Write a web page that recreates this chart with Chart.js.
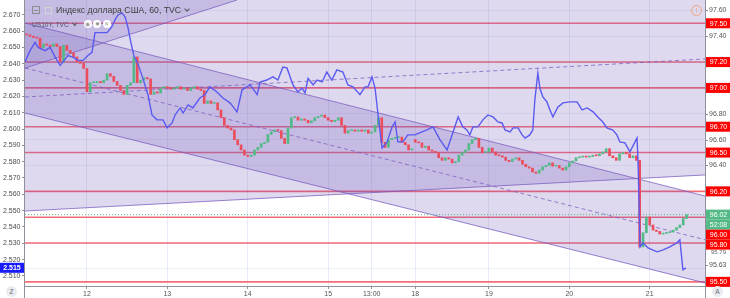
<!DOCTYPE html>
<html><head><meta charset="utf-8">
<script src="https://cdn.jsdelivr.net/npm/chart.js@4.4.1/dist/chart.umd.min.js"></script>
<style>
html,body{margin:0;padding:0;background:#fff;overflow:hidden;}
#wrap{position:relative;width:730px;height:298px;font-family:"Liberation Sans",Arial,sans-serif;}
#c{position:absolute;left:0;top:0;}
.row{position:absolute;display:flex;align-items:center;white-space:nowrap;}
.chev{display:inline-block;width:3px;height:3px;border-right:1px solid #555;border-bottom:1px solid #555;transform:rotate(45deg);margin-left:4px;margin-top:-3px;}
.ic{display:inline-block;width:8px;height:8px;border-radius:50%;background:#fff;margin-left:1.5px;color:#999;font-size:6px;line-height:8px;text-align:center;}
.circ{position:absolute;width:11px;height:11px;border-radius:50%;background:#e9ebf0;color:#666;font-size:6.5px;line-height:11px;text-align:center;}
</style></head><body>
<div id="wrap">
<canvas id="c" width="730" height="298"></canvas>
<div class="row" style="left:32px;top:5px;height:10px;font-size:8.7px;color:#3f3f3f;">
  <span style="display:inline-block;width:6px;height:6px;border:1px solid #8c8c8c;position:relative;margin-right:5px;"><span style="position:absolute;left:1px;right:1px;top:2.5px;height:1px;background:#8c8c8c;"></span></span>
  <span style="display:inline-block;width:5px;height:5px;border:1px solid #d4d4d4;margin-right:4px;"></span>
  <span>Индекс доллара США, 60, TVC</span><span class="chev"></span>
</div>
<div class="row" style="left:32px;top:19.5px;height:9px;font-size:6.6px;color:#4e5a6e;">
  <span>US10Y, TVC</span><span class="chev" style="width:2.5px;height:2.5px;margin-right:6px;"></span>
  <span class="ic">&#9673;</span><span class="ic">&#10041;</span><span class="ic">&#10005;</span>
</div>
<div style="position:absolute;left:691px;top:5px;width:9px;height:9px;border:1px solid #efa37a;border-radius:50%;color:#efa37a;font-size:7px;line-height:9px;text-align:center;">!</div>
<div class="circ" style="left:6px;top:286px;">Z</div>
<div class="circ" style="left:712px;top:286px;">A</div>
</div>
<script>
// ---- x axis (hourly bar index) ----
const dayTickPos = [18, 42, 66, 90, 103, 116, 138, 162, 186];
const dayTickLabels = ['12', '13', '14', '15', '13:00', '18', '19', '20', '21'];

// ---- Dollar index (right axis), hourly candles ----
const dxyFirstOpen = 97.417;
const dxyGapOpens = {116: 96.60};
const dxyCloses = [
 97.41,97.40,97.39,97.385,97.31,97.34,97.33,97.32,97.34,97.32,
 97.20,97.33,97.29,97.27,97.24,97.20,97.19,97.15,96.97,97.04,
 97.04,97.05,97.04,97.06,97.11,97.09,97.05,97.02,96.98,96.95,
 97.02,97.04,97.24,97.04,97.06,97.08,97.07,96.95,96.97,96.96,
 97.00,97.01,97.00,96.99,97.00,97.01,96.99,97.00,96.98,97.00,
 97.01,96.99,96.98,96.88,96.90,96.88,96.885,96.83,96.77,96.71,
 96.69,96.675,96.60,96.56,96.52,96.48,96.47,96.48,96.52,96.54,
 96.57,96.58,96.64,96.66,96.675,96.67,96.61,96.57,96.69,96.77,
 96.775,96.75,96.76,96.75,96.73,96.745,96.77,96.78,96.79,96.77,
 96.75,96.74,96.75,96.77,96.71,96.65,96.67,96.675,96.665,96.675,
 96.665,96.675,96.65,96.66,96.71,96.77,96.58,96.54,96.60,96.61,
 96.615,96.62,96.58,96.56,96.52,96.53,96.58,96.575,96.54,96.55,
 96.52,96.51,96.50,96.46,96.44,96.46,96.45,96.42,96.43,96.48,
 96.50,96.52,96.57,96.60,96.61,96.54,96.50,96.505,96.535,96.505,
 96.48,96.475,96.465,96.44,96.43,96.45,96.46,96.44,96.41,96.39,
 96.38,96.35,96.34,96.365,96.39,96.40,96.42,96.395,96.40,96.38,
 96.365,96.39,96.42,96.435,96.46,96.465,96.47,96.465,96.47,96.48,
 96.475,96.49,96.505,96.53,96.475,96.46,96.44,96.49,96.50,96.49,
 96.46,96.475,96.44,95.77,95.88,96.00,95.94,95.90,95.89,95.87,
 95.875,95.88,95.885,95.90,95.92,95.94,95.99,96.02
];

// ---- US10Y (left axis) ----
const tnxX = [-0.5,1.0,2.5,3.4,5.5,7.0,8.5,10.0,10.8,12.3,13.8,15.3,16.8,18.3,19.5,20.4,21.9,24.0,25.4,26.4,
 27.3,28.5,29.4,30.2,31.1,32.0,33.2,34.7,36.2,37.4,38.9,40.7,41.9,43.4,44.3,45.8,46.7,48.2,49.6,51.7,
 53.2,54.7,56.8,58.6,60.7,62.8,64.3,66.7,68.8,69.7,71.7,73.5,75.0,76.5,77.7,79.5,81.0,82.2,83.1,84.0,
 85.5,86.7,88.2,89.6,91.1,92.6,94.4,95.9,97.4,99.5,101.0,101.9,103.1,104.0,104.9,106.1,107.6,109.1,110.0,110.8,
 112.3,113.8,115.9,118.0,119.5,121.3,123.4,125.5,127.3,128.8,130.2,131.4,132.3,133.2,134.7,136.2,137.7,139.2,140.7,141.9,
 142.8,144.3,145.2,146.7,147.9,148.8,150.2,151.1,151.7,152.6,153.2,154.1,155.3,156.2,157.1,158.6,160.1,162.2,164.3,165.8,
 167.3,169.1,170.5,172.0,173.2,175.0,176.2,177.1,178.6,180.1,181.6,182.2,182.5,183.1,184.0,185.5,188.2,190.0,192.0,194.1,
 195.0,195.9,196.8];
const tnxY = [2.641,2.648,2.653,2.650,2.648,2.650,2.644,2.639,2.641,2.645,2.644,2.642,2.642,2.645,2.647,2.659,2.659,2.659,2.6625,2.667,
 2.670,2.671,2.6686,2.6625,2.653,2.645,2.640,2.631,2.621,2.6086,2.6056,2.6056,2.6007,2.6037,2.6086,2.6129,2.6098,2.6147,2.6129,2.619,
 2.621,2.6258,2.6227,2.619,2.616,2.6105,2.624,2.627,2.621,2.6288,2.630,2.6319,2.630,2.638,2.6374,2.627,2.6227,2.6251,2.6221,2.631,
 2.627,2.630,2.6288,2.6349,2.630,2.6362,2.6349,2.627,2.6258,2.621,2.6258,2.6258,2.6319,2.6251,2.6086,2.5884,2.5921,2.6013,2.6043,2.5921,
 2.5921,2.5964,2.5964,2.5982,2.5994,2.6013,2.5933,2.5872,2.5982,2.6074,2.6013,2.5994,2.5964,2.6013,2.6013,2.6056,2.6086,2.6074,2.6043,2.6037,
 2.5994,2.5982,2.6007,2.6007,2.5964,2.5945,2.5964,2.5994,2.6178,2.6343,2.6251,2.6196,2.6166,2.6117,2.6074,2.6135,2.616,2.6166,2.6166,2.6117,
 2.6129,2.6105,2.6074,2.6043,2.6007,2.5994,2.5964,2.5921,2.5915,2.586,2.5921,2.5945,2.5811,2.5278,2.5303,2.5272,2.5248,2.526,2.5278,2.5303,
 2.5321,2.5138,2.515];

// ---- drawings (right-axis values) ----
const hLevels = [97.50, 97.20, 97.00, 96.70, 96.50, 96.20, 96.00, 95.80, 95.50];
const rightGrayTicks = [97.60, 97.40, 96.80, 96.60, 96.40, 95.63];
const rightSmallLabel = '95.79';
const lastPrice = 96.02;
const countdown = '52:08';
const descUpper = [[-0.5, 97.502], [202.5, 96.164]];
const descLower = [[-0.5, 96.806], [202.5, 95.492]];
const descMid = [[-0.5, 97.154], [202.5, 95.826]];
const ascLower = [[-0.5, 96.048], [202.5, 96.327]];
const ascMid = [[-0.5, 96.930], [202.5, 97.224]];
const steepLine = [[-0.5, 97.154], [62.8, 97.680]];

const UP = '#53b987', DOWN = '#eb4d5c';
const opens = dxyCloses.map((c, j) => j === 0 ? dxyFirstOpen : (dxyGapOpens[j] !== undefined ? dxyGapOpens[j] : dxyCloses[j - 1]));
const candleData = dxyCloses.map((c, j) => ({x: j, y: [opens[j], c]}));
const candleColors = dxyCloses.map((c, j) => c >= opens[j] ? UP : DOWN);
const tnxData = tnxX.map((x, i) => ({x: x, y: tnxY[i]}));

const FONT = '"Liberation Sans", Arial, sans-serif';

const overlay = {
  id: 'overlay',
  beforeDatasetsDraw(chart) {
    const {ctx, chartArea: a, scales: {x, yR}} = chart;
    const P = (p) => [x.getPixelForValue(p[0]), yR.getPixelForValue(p[1])];
    ctx.save();
    ctx.beginPath(); ctx.rect(a.left, a.top, a.right - a.left, a.bottom - a.top); ctx.clip();
    // horizontal levels
    ctx.strokeStyle = 'rgba(242,54,69,0.72)'; ctx.lineWidth = 1.6;
    hLevels.forEach(v => { const y = yR.getPixelForValue(v); ctx.beginPath(); ctx.moveTo(a.left, y); ctx.lineTo(a.right, y); ctx.stroke(); });
    const fill = 'rgba(110,80,180,0.22)';
    const poly = (pts) => { ctx.beginPath(); pts.forEach((p, i) => { const q = P(p); i ? ctx.lineTo(q[0], q[1]) : ctx.moveTo(q[0], q[1]); }); ctx.closePath(); ctx.fillStyle = fill; ctx.fill(); };
    // ascending channel (upper edge off-chart)
    poly([ascLower[0], ascLower[1], [ascLower[1][0], 99], [ascLower[0][0], 99]]);
    // descending channel
    poly([descUpper[0], descUpper[1], descLower[1], descLower[0]]);
    // steep wedge
    poly([steepLine[0], steepLine[1], [steepLine[1][0], 99], [steepLine[0][0], 99]]);
    const seg = (s, dash) => { const p = P(s[0]), q = P(s[1]); ctx.setLineDash(dash); ctx.beginPath(); ctx.moveTo(p[0], p[1]); ctx.lineTo(q[0], q[1]); ctx.stroke(); };
    ctx.strokeStyle = 'rgba(120,90,190,0.75)'; ctx.lineWidth = 1;
    seg(descUpper, []); seg(descLower, []); seg(ascLower, []); seg(steepLine, []);
    seg(descMid, [4, 3]); seg(ascMid, [4, 3]);
    // last price dotted
    ctx.strokeStyle = UP; ctx.setLineDash([1, 2]);
    const ly = yR.getPixelForValue(lastPrice);
    ctx.beginPath(); ctx.moveTo(a.left, ly); ctx.lineTo(a.right, ly); ctx.stroke();
    ctx.setLineDash([]);
    ctx.restore();
  },
  afterDraw(chart) {
    const {ctx, chartArea: a, scales: {yR, yL}} = chart;
    ctx.save();
    // axis borders
    ctx.strokeStyle = '#8e9199'; ctx.lineWidth = 1;
    ctx.beginPath(); ctx.moveTo(a.left - 0.5, 0); ctx.lineTo(a.left - 0.5, 298); ctx.stroke();
    ctx.beginPath(); ctx.moveTo(a.right + 0.5, 0); ctx.lineTo(a.right + 0.5, 298); ctx.stroke();
    ctx.beginPath(); ctx.moveTo(a.left, a.bottom + 0.5); ctx.lineTo(a.right, a.bottom + 0.5); ctx.stroke();
    // right gray ticks
    ctx.font = '7px ' + FONT; ctx.textBaseline = 'middle'; ctx.textAlign = 'left';
    rightGrayTicks.forEach(v => {
      const y = Math.round(yR.getPixelForValue(v)) + 0.5;
      ctx.strokeStyle = '#8e9199'; ctx.beginPath(); ctx.moveTo(a.right, y); ctx.lineTo(a.right + 3, y); ctx.stroke();
      ctx.fillStyle = '#555'; ctx.fillText(v.toFixed(2), a.right + 4, y);
    });
    // colored labels, stacked
    const items = hLevels.map(v => ({y: yR.getPixelForValue(v), t: v.toFixed(2), bg: '#ff0000'}));
    const gy = yR.getPixelForValue(lastPrice);
    items.push({y: gy, t: lastPrice.toFixed(2), bg: UP, k: 0});
    items.push({y: gy + 0.01, t: countdown, bg: UP, k: 1});
    items.sort((p, q) => p.y - q.y);
    const H = 10;
    let prev = -100;
    items.forEach(it => { if (it.y < prev + H) it.y = prev + H; prev = it.y; });
    // small gray label under the 95.80 box
    const b58 = items.find(it => it.t === '95.80');
    ctx.fillStyle = '#666'; ctx.font = '6px ' + FONT;
    ctx.fillText(rightSmallLabel, a.right + 6, b58.y + 8);
    ctx.font = '7px ' + FONT; ctx.textAlign = 'center';
    items.forEach(it => {
      ctx.fillStyle = it.bg; ctx.fillRect(a.right + 1, it.y - H / 2, 730 - a.right - 1, H);
      ctx.fillStyle = '#fff'; ctx.fillText(it.t, (a.right + 730) / 2 + 1, it.y + 0.5);
    });
    // left current value box
    const lv = tnxY[tnxY.length - 1];
    const by = yL.getPixelForValue(lv);
    ctx.fillStyle = '#1a1aff'; ctx.fillRect(0, by - 5, a.left - 1, 10);
    ctx.fillStyle = '#fff'; ctx.font = 'bold 7px ' + FONT; ctx.textAlign = 'center';
    ctx.fillText(lv.toFixed(3), (a.left - 1) / 2, by + 0.5);
    ctx.restore();
  }
};

new Chart(document.getElementById('c'), {
  type: 'bar',
  data: {
    datasets: [
      {type: 'line', label: 'US10Y', data: tnxData, xAxisID: 'x', yAxisID: 'yL', borderColor: '#5a5af0', borderWidth: 1.4,
       pointRadius: 0, tension: 0, fill: false, order: 0},
      {type: 'bar', label: 'DXY', data: candleData, xAxisID: 'x', yAxisID: 'yR', backgroundColor: candleColors,
       borderWidth: 0, barThickness: 2, minBarLength: 1, grouped: false, order: 1}
    ]
  },
  options: {
    responsive: false, animation: false, devicePixelRatio: 1, events: [],
    layout: {padding: 0},
    plugins: {legend: {display: false}, tooltip: {enabled: false}},
    scales: {
      x: {
        type: 'linear', position: 'bottom', min: -0.5, max: 202.5, offset: false,
        afterBuildTicks(s) { s.ticks = dayTickPos.map(v => ({value: v})); },
        afterFit(s) { s.height = 12; s.paddingLeft = 0; s.paddingRight = 0; },
        ticks: {autoSkip: false, maxRotation: 0, padding: 1, color: '#555', font: {size: 7, family: FONT},
          callback: (v) => { const i = dayTickPos.indexOf(v); return i >= 0 ? dayTickLabels[i] : ''; }},
        grid: {offset: false, color: 'rgba(150,170,215,0.22)', tickColor: '#8e9199', tickLength: 3},
        border: {display: false}
      },
      yL: {
        type: 'linear', position: 'left', min: 2.50386, max: 2.679,
        afterFit(s) { s.width = 25; s.paddingTop = 0; s.paddingBottom = 0; },
        ticks: {stepSize: 0.01, includeBounds: false, autoSkip: false, padding: 1.5, color: '#4c4c4c',
          font: {size: 7, family: FONT}, callback: (v) => v.toFixed(3)},
        grid: {drawOnChartArea: false, tickLength: 3, tickColor: '#8e9199'},
        border: {display: false}
      },
      yR: {
        type: 'linear', position: 'right', min: 95.468, max: 97.68,
        afterFit(s) { s.width = 25; s.paddingTop = 0; s.paddingBottom = 0; },
        ticks: {display: false, stepSize: 0.2, includeBounds: false},
        grid: {drawTicks: false, color: 'rgba(150,170,215,0.18)'},
        border: {display: false}
      }
    }
  },
  plugins: [overlay]
});
</script>
</body></html>
